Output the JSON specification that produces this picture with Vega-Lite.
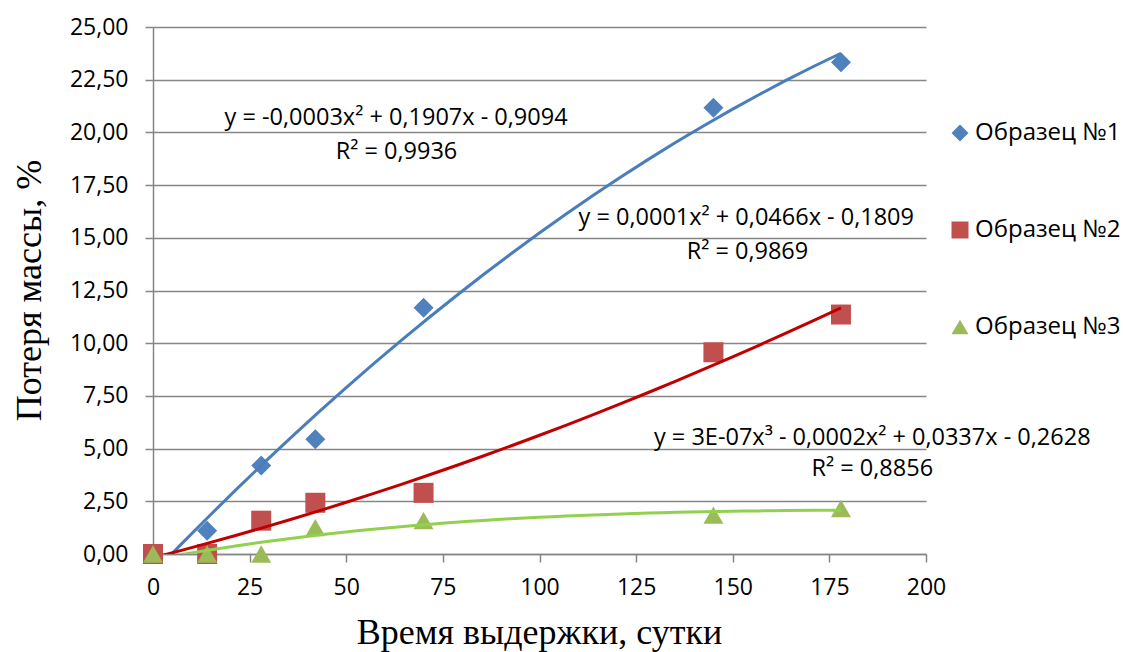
{
  "$schema": "https://vega.github.io/schema/vega-lite/v6.json",
  "width": 773,
  "height": 527,
  "autosize": {"type": "none"},
  "padding": {"left": 153, "top": 27, "right": 197, "bottom": 98},
  "background": "white",
  "config": {
    "view": {"stroke": null},
    "font": "Open Sans",
    "axis": {
      "domainColor": "#868686",
      "domainWidth": 1.5,
      "tickColor": "#868686",
      "tickWidth": 1.5,
      "tickSize": 8,
      "gridColor": "#868686",
      "gridWidth": 1.5,
      "labelFont": "Open Sans",
      "labelFontSize": 23,
      "labelColor": "#000000",
      "labelFlush": false,
      "titleFont": "Liberation Serif",
      "titleFontSize": 36,
      "titleFontWeight": "normal",
      "titleColor": "#000000"
    }
  },
  "datasets": {
    "pts": [
      {"series": "Образец №1", "days": 0, "loss": 0},
      {"series": "Образец №1", "days": 14, "loss": 1.1},
      {"series": "Образец №1", "days": 28, "loss": 4.2},
      {"series": "Образец №1", "days": 42, "loss": 5.44},
      {"series": "Образец №1", "days": 70, "loss": 11.68},
      {"series": "Образец №1", "days": 145, "loss": 21.17},
      {"series": "Образец №1", "days": 178, "loss": 23.33},
      {"series": "Образец №2", "days": 0, "loss": 0},
      {"series": "Образец №2", "days": 14, "loss": 0},
      {"series": "Образец №2", "days": 28, "loss": 1.58},
      {"series": "Образец №2", "days": 42, "loss": 2.43},
      {"series": "Образец №2", "days": 70, "loss": 2.9},
      {"series": "Образец №2", "days": 145, "loss": 9.57},
      {"series": "Образец №2", "days": 178, "loss": 11.36},
      {"series": "Образец №3", "days": 0, "loss": 0},
      {"series": "Образец №3", "days": 14, "loss": 0},
      {"series": "Образец №3", "days": 28, "loss": 0},
      {"series": "Образец №3", "days": 42, "loss": 1.25},
      {"series": "Образец №3", "days": 70, "loss": 1.58},
      {"series": "Образец №3", "days": 145, "loss": 1.84},
      {"series": "Образец №3", "days": 178, "loss": 2.16}
    ],
    "ann": [
      {"days": 62.9, "loss": 20.67, "label": "y = -0,0003x² + 0,1907x - 0,9094"},
      {"days": 63.0, "loss": 19.06, "label": "R² = 0,9936"},
      {"days": 153.5, "loss": 15.92, "label": "y = 0,0001x² + 0,0466x - 0,1809"},
      {"days": 153.8, "loss": 14.31, "label": "R² = 0,9869"},
      {"days": 186.1, "loss": 5.52, "label": "y = 3E-07x³ - 0,0002x² + 0,0337x - 0,2628"},
      {"days": 186.1, "loss": 4.05, "label": "R² = 0,8856"}
    ]
  },
  "layer": [
    {
      "data": {"name": "pts"},
      "mark": {"type": "point", "filled": true, "size": 400, "opacity": 1},
      "encoding": {
        "x": {
          "field": "days",
          "type": "quantitative",
          "scale": {"domain": [0, 200], "nice": false, "zero": false},
          "axis": {
            "title": "Время выдержки, сутки",
            "values": [0, 25, 50, 75, 100, 125, 150, 175, 200],
            "grid": false,
            "labelPadding": 14,
            "titleX": 386,
            "titleY": 89,
            "titleBaseline": "alphabetic",
            "titleAlign": "center"
          }
        },
        "y": {
          "field": "loss",
          "type": "quantitative",
          "scale": {"domain": [0, 25], "nice": false, "zero": false},
          "axis": {
            "title": "Потеря массы, %",
            "values": [0, 2.5, 5, 7.5, 10, 12.5, 15, 17.5, 20, 22.5, 25],
            "grid": true,
            "labelExpr": "replace(format(datum.value, '.2f'), '.', ',')",
            "labelPadding": 17,
            "titleX": -113,
            "titleY": 263,
            "titleAngle": -90,
            "titleBaseline": "alphabetic",
            "titleAlign": "center"
          }
        },
        "color": {
          "field": "series",
          "type": "nominal",
          "scale": {
            "domain": ["Образец №1", "Образец №2", "Образец №3"],
            "range": ["#4F81BD", "#C0504D", "#9BBB59"]
          },
          "legend": {
            "title": null,
            "orient": "none",
            "legendX": 795,
            "legendY": 94,
            "padding": 0,
            "symbolSize": 289,
            "symbolStrokeWidth": 0,
            "labelFont": "Open Sans",
            "labelFontSize": 24,
            "labelColor": "#000000",
            "labelOffset": 3,
            "rowPadding": 73
          }
        },
        "shape": {
          "field": "series",
          "type": "nominal",
          "scale": {
            "domain": ["Образец №1", "Образец №2", "Образец №3"],
            "range": ["diamond", "square", "triangle-up"]
          }
        }
      }
    },
    {
      "data": {"name": "pts"},
      "transform": [
        {"filter": "datum.series === 'Образец №1'"},
        {"regression": "loss", "on": "days", "method": "poly", "order": 2, "extent": [0, 178]}
      ],
      "mark": {"type": "line", "color": "#4A7EBB", "strokeWidth": 3, "clip": true},
      "encoding": {
        "x": {"field": "days", "type": "quantitative"},
        "y": {"field": "loss", "type": "quantitative"}
      }
    },
    {
      "data": {"name": "pts"},
      "transform": [
        {"filter": "datum.series === 'Образец №2'"},
        {"regression": "loss", "on": "days", "method": "poly", "order": 2, "extent": [0, 178]}
      ],
      "mark": {"type": "line", "color": "#C00000", "strokeWidth": 3, "clip": true},
      "encoding": {
        "x": {"field": "days", "type": "quantitative"},
        "y": {"field": "loss", "type": "quantitative"}
      }
    },
    {
      "data": {"name": "pts"},
      "transform": [
        {"filter": "datum.series === 'Образец №3'"},
        {"regression": "loss", "on": "days", "method": "poly", "order": 3, "extent": [0, 178]}
      ],
      "mark": {"type": "line", "color": "#92D050", "strokeWidth": 3, "clip": true},
      "encoding": {
        "x": {"field": "days", "type": "quantitative"},
        "y": {"field": "loss", "type": "quantitative"}
      }
    },
    {
      "data": {"name": "ann"},
      "mark": {"type": "text", "font": "Open Sans", "fontSize": 23.5, "color": "#000000", "align": "center", "baseline": "middle"},
      "encoding": {
        "x": {"field": "days", "type": "quantitative"},
        "y": {"field": "loss", "type": "quantitative"},
        "text": {"field": "label"}
      }
    }
  ]
}
